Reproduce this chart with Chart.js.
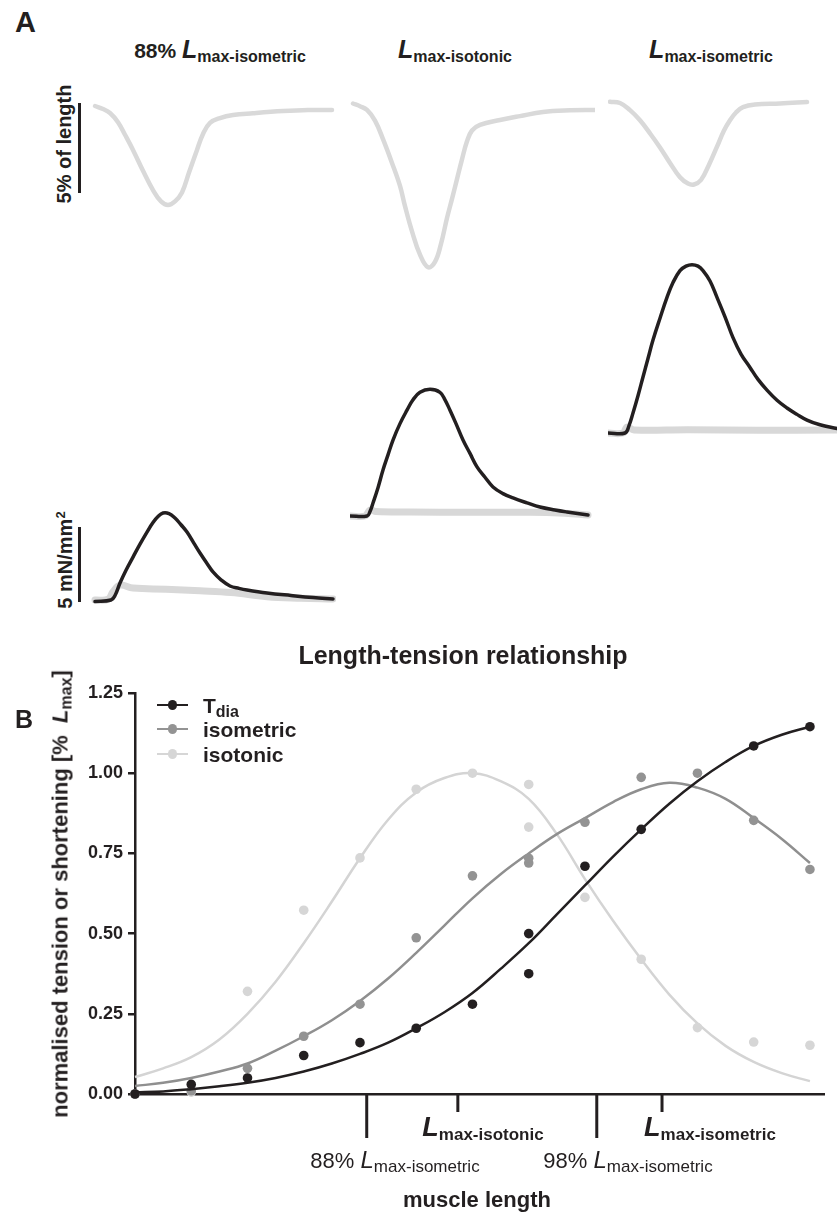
<!DOCTYPE html>
<html lang="en">
<head>
<meta charset="UTF-8">
<title>Length-tension relationship</title>
<script src="https://cdn.jsdelivr.net/npm/chart.js"></script>
<style>
  body { margin: 0; background: #fff; }
  #fig {
    position: relative; width: 837px; height: 1214px; overflow: hidden;
    font-family: 'Liberation Sans', Arial, Helvetica, sans-serif; color: #231f20;
  }
  #fig canvas { position: absolute; }
  .t { position: absolute; line-height: 1; white-space: nowrap; }
  .b { font-weight: bold; }
  .i { font-style: italic; }
  .s { vertical-align: -4px; }
  .bar { position: absolute; background: #231f20; }
</style>
</head>
<body>
<div id="fig">
  <canvas id="lt" width="837" height="574" style="left:0;top:640px"></canvas>
</div>

<script>
// ---- panel A: traces (time in ms from trace start, length in %, force in mN/mm2)
const len88 = [[4,0],[12,-0.17],[19,-0.39],[27,-0.9],[34,-1.6],[42,-2.44],[52,-3.6],[62,-4.67],[70,-5.3],[77,-5.5],[84,-5.3],[91,-4.8],[98,-3.7],[106,-2.44],[112,-1.55],[119,-0.94],[129,-0.67],[142,-0.5],[162,-0.4],[192,-0.28],[217,-0.22],[241,-0.22]];
const lenIsotonic = [[3,0],[10,-0.15],[17,-0.36],[25,-0.95],[33,-1.98],[42,-3.3],[50,-4.58],[55,-5.7],[62,-7.1],[70,-8.4],[78,-9.1],[85,-8.8],[91,-7.8],[97,-6.36],[102,-5.3],[107,-4.2],[112,-3.1],[117,-2.1],[122,-1.5],[130,-1.19],[150,-0.92],[170,-0.7],[193,-0.47],[220,-0.38],[245,-0.36]];
const lenIsometric = [[2,0],[12,-0.07],[22,-0.47],[32,-1.03],[42,-1.76],[52,-2.54],[62,-3.4],[72,-4.2],[80,-4.55],[86,-4.6],[93,-4.35],[101,-3.5],[109,-2.5],[116,-1.6],[122,-1.03],[128,-0.6],[135,-0.3],[147,-0.15],[172,-0.1],[199,-0.02]];

const force88 = [[4,-0.1],[20,0],[24,0.3],[29,1.14],[35,2.0],[42,2.88],[49,3.75],[56,4.56],[62,5.2],[67,5.6],[72,5.84],[78,5.8],[84,5.5],[90,5.05],[96,4.56],[103,3.8],[109,3.15],[116,2.45],[122,1.88],[130,1.35],[139,0.94],[148,0.78],[156,0.67],[176,0.47],[200,0.3],[222,0.16],[242,0.07]];
const forceIsotonic = [[0,0],[17,0],[20,0.3],[23,0.87],[28,1.9],[33,3.09],[38,4.1],[43,5.1],[50,6.2],[57,7.1],[63,7.8],[70,8.3],[80,8.5],[90,8.3],[95,7.8],[100,7.1],[106,6.2],[113,5.1],[120,4.2],[127,3.3],[135,2.6],[143,1.95],[153,1.5],[163,1.21],[177,0.88],[190,0.6],[205,0.4],[217,0.27],[238,0.07]];
const forceIsometric = [[0,0],[17,0],[21,0.5],[25,1.34],[30,2.5],[35,3.76],[40,5.0],[45,6.24],[52,7.7],[59,9.1],[65,10.1],[72,10.9],[78,11.2],[84,11.3],[90,11.2],[95,10.9],[102,10.2],[109,9.1],[117,7.8],[125,6.4],[133,5.3],[142,4.4],[150,3.6],[159,2.88],[169,2.2],[179,1.68],[189,1.25],[199,0.87],[212,0.55],[229,0.3]];

const loaded88 = [[4,0],[17,0.05],[22,0.55],[29,1.0],[42,0.8],[75,0.72],[109,0.62],[140,0.5],[176,0.22],[210,0.12],[242,0.07]];
const loadedIsotonic = [[0,0],[15,0],[20,0.4],[26,0.3],[60,0.27],[120,0.25],[180,0.25],[215,0.18],[238,0.07]];
const loadedIsometric = [[0,0],[15,0],[19,0.4],[26,0.2],[80,0.22],[150,0.18],[229,0.2]];

// ---- panel B: length-tension relationship
const fitX = [0,0.5,1,1.5,2,2.5,3,3.5,4,4.5,5,5.5,6,6.5,7,7.5,8,8.5,9,9.5,10,10.5,11,11.5,12];
const fitTdia = [0.005,0.008,0.015,0.024,0.035,0.05,0.07,0.095,0.125,0.16,0.205,0.255,0.315,0.39,0.47,0.56,0.65,0.74,0.825,0.905,0.975,1.035,1.085,1.12,1.145];
const fitIsometric = [0.025,0.035,0.05,0.07,0.095,0.135,0.18,0.23,0.29,0.36,0.44,0.525,0.61,0.685,0.75,0.81,0.86,0.91,0.95,0.97,0.955,0.92,0.86,0.795,0.72];
const fitIsotonic = [0.053,0.08,0.115,0.17,0.25,0.35,0.47,0.60,0.735,0.855,0.94,0.985,1.0,0.975,0.92,0.81,0.67,0.54,0.42,0.31,0.22,0.15,0.10,0.065,0.04];

const tdiaPts = [[0,0],[1,0.03],[2,0.05],[3,0.12],[4,0.16],[5,0.205],[6,0.28],[7,0.375],[7,0.50],[8,0.71],[9,0.825],[11,1.085],[12,1.145]];
const isometricPts = [[0,0],[1,0.01],[2,0.08],[3,0.18],[4,0.28],[5,0.487],[6,0.68],[7,0.72],[7,0.735],[8,0.847],[9,0.987],[10,1.0],[11,0.853],[12,0.70]];
const isotonicPts = [[0,0],[1,0.006],[2,0.32],[3,0.573],[4,0.736],[5,0.95],[6,1.0],[7,0.832],[7,0.965],[8,0.613],[9,0.42],[10,0.207],[11,0.162],[12,0.152]];

const yTicks = [0, 0.25, 0.5, 0.75, 1.0, 1.25];
const markerX = [4.12, 5.74, 8.21, 9.37];   // 88%, Lmax-isotonic, 98%, Lmax-isometric
const markerLong = [true, false, true, false];

const INK = '#231f20', MID = '#8f8f8f', LIGHT = '#d6d6d6';
Chart.defaults.font.family = "'Liberation Sans', Arial, sans-serif";

const xy = arr => arr.map(p => ({x: p[0], y: p[1]}));
const fig = document.getElementById('fig');

// ---- panel A charts, one per column
const TOP = 90, H = 525, PX_PCT = 18, PX_MN = 14.9;
const cols = [
  {left: 91,  w: 245, lenBase: 106,   fBase: 600, len: len88,        force: force88,        loaded: loaded88},
  {left: 350, w: 245, lenBase: 103.5, fBase: 516, len: lenIsotonic,  force: forceIsotonic,  loaded: loadedIsotonic},
  {left: 608, w: 229, lenBase: 101.7, fBase: 433, len: lenIsometric, force: forceIsometric, loaded: loadedIsometric}
];
const traceLine = {showLine: true, pointRadius: 0, tension: 0.4, clip: false,
                   borderCapStyle: 'round', borderJoinStyle: 'round'};

cols.forEach(c => {
  const cv = document.createElement('canvas');
  cv.width = c.w; cv.height = H;
  cv.style.left = c.left + 'px'; cv.style.top = TOP + 'px';
  fig.appendChild(cv);
  new Chart(cv, {
    type: 'scatter',
    data: { datasets: [
      Object.assign({data: xy(c.force),  yAxisID: 'yF', borderColor: INK,       borderWidth: 3.5, order: 0}, traceLine),
      Object.assign({data: xy(c.loaded), yAxisID: 'yF', borderColor: '#d8d8d8', borderWidth: 7,   order: 1}, traceLine),
      Object.assign({data: xy(c.len),    yAxisID: 'yL', borderColor: '#d9d9d9', borderWidth: 4.5, order: 2}, traceLine)
    ]},
    options: {
      responsive: false, animation: false, events: [],
      layout: {padding: 0},
      plugins: {legend: {display: false}, tooltip: {enabled: false}},
      scales: {
        x:  {type: 'linear', display: false, min: 0, max: c.w},
        yL: {display: false, min: -(TOP + H - c.lenBase) / PX_PCT, max: (c.lenBase - TOP) / PX_PCT},
        yF: {display: false, min: -(TOP + H - c.fBase) / PX_MN,    max: (c.fBase - TOP) / PX_MN}
      }
    }
  });
});

// ---- panel B chart
const markerPlugin = {
  id: 'markers',
  afterDraw(chart) {
    const ctx = chart.ctx, sx = chart.scales.x, y0 = chart.chartArea.bottom;
    ctx.save();
    ctx.strokeStyle = INK; ctx.lineWidth = 3;
    markerX.forEach((v, i) => {
      const px = sx.getPixelForValue(v);
      ctx.beginPath(); ctx.moveTo(px, y0); ctx.lineTo(px, y0 + (markerLong[i] ? 44 : 18)); ctx.stroke();
    });
    ctx.restore();
  }
};

const curve = (vals, color, order) => ({
  data: fitX.map((x, i) => ({x, y: vals[i]})), showLine: true, pointRadius: 0,
  borderColor: color, borderWidth: 2.5, tension: 0.4, clip: false, order
});
const dots = (pts, color, order) => ({
  data: xy(pts), showLine: false, pointRadius: 4.8, pointBorderWidth: 0,
  backgroundColor: color, borderColor: color, clip: false, order
});

new Chart(document.getElementById('lt'), {
  type: 'scatter',
  data: { datasets: [
    dots(tdiaPts, INK, 0), curve(fitTdia, INK, 1),
    dots(isometricPts, '#939393', 2), curve(fitIsometric, MID, 3),
    dots(isotonicPts, LIGHT, 4), curve(fitIsotonic, '#d4d4d4', 5)
  ]},
  options: {
    responsive: false, animation: false, events: [],
    layout: {padding: {top: 53, right: 13, bottom: 120, left: 0}},
    plugins: {legend: {display: false}, tooltip: {enabled: false}},
    scales: {
      x: {
        type: 'linear', min: 0, max: 12.25,
        ticks: {display: false},
        grid: {display: true, drawOnChartArea: false, drawTicks: false},
        border: {display: true, color: INK, width: 2.5},
        afterFit: s => { s.height = 0; }
      },
      y: {
        min: 0, max: 1.25,
        afterBuildTicks: s => { s.ticks = yTicks.map(v => ({value: v})); },
        ticks: {callback: v => v.toFixed(2), color: INK, padding: 5, font: {size: 18, weight: 'bold'}},
        grid: {display: true, drawOnChartArea: false, drawTicks: true, tickLength: 7, color: INK, lineWidth: 2.5},
        border: {display: true, color: INK, width: 2.5},
        afterFit: s => { s.width = 135; }
      }
    }
  },
  plugins: [markerPlugin]
});

// ---- text and scale bars
function label(html, x, base, size, maxSize, cls, center) {
  const d = document.createElement('div');
  d.className = 't ' + (cls || '');
  d.style.fontSize = size + 'px';
  d.innerHTML = html;
  d.style.left = x + 'px';
  d.style.top = (base - 0.8465 * maxSize) + 'px';
  if (center) d.style.transform = 'translateX(-50%)';
  fig.appendChild(d);
}
function vlabel(html, cx, cy, size, cls) {
  const d = document.createElement('div');
  d.className = 't ' + (cls || '');
  d.style.fontSize = size + 'px';
  d.innerHTML = html;
  d.style.left = cx + 'px'; d.style.top = cy + 'px';
  d.style.transform = 'translate(-50%,-50%) rotate(-90deg)';
  fig.appendChild(d);
}
const Lsub = (Ls, ss, sub) => `<span class="i" style="font-size:${Ls}px">L</span><span class="s" style="font-size:${ss}px">${sub}</span>`;

label('A', 15, 33, 29, 29, 'b');
label('88% ' + Lsub(25, 16, 'max-isometric'), 220, 58, 21, 25, 'b', true);
label(Lsub(25, 16, 'max-isotonic'), 455, 58, 21, 25, 'b', true);
label(Lsub(25, 16, 'max-isometric'), 711, 58, 21, 25, 'b', true);

vlabel('5% of length', 64, 143.5, 20, 'b');
vlabel('5 mN/mm<span style="font-size:13px;vertical-align:7px">2</span>', 64, 560, 20, 'b');
[[103, 90], [527, 75]].forEach(([top, h]) => {
  const d = document.createElement('div');
  d.className = 'bar';
  d.style.left = '77.5px'; d.style.top = top + 'px'; d.style.width = '3px'; d.style.height = h + 'px';
  fig.appendChild(d);
});

label('Length-tension relationship', 463, 664, 25, 25, 'b', true);
label('B', 15, 728, 25, 25, 'b');
vlabel('normalised tension or shortening [%&nbsp; ' + Lsub(22, 16, 'max') + ']', 62.4, 894, 22, 'b');

// legend
[['T<span class="s" style="font-size:16px">dia</span>', INK, 705],
 ['isometric', '#939393', 729],
 ['isotonic', LIGHT, 754]].forEach(([txt, col, y]) => {
  const ln = document.createElement('div');
  ln.className = 'bar';
  ln.style.cssText = `left:157px;top:${y - 1.25}px;width:31px;height:2.5px;background:${col}`;
  fig.appendChild(ln);
  const dt = document.createElement('div');
  dt.className = 'bar';
  dt.style.cssText = `left:${172.5 - 4.8}px;top:${y - 4.8}px;width:9.6px;height:9.6px;border-radius:50%;background:${col}`;
  fig.appendChild(dt);
  label(txt, 203, y + 7.5, 21, 21, 'b');
});

// x-axis markers
label(Lsub(27, 17, 'max-isotonic'), 483, 1137, 22, 27, 'b', true);
label(Lsub(27, 17, 'max-isometric'), 710, 1137, 22, 27, 'b', true);
label('88% ' + Lsub(24, 17, 'max-isometric'), 395, 1168, 22, 24, '', true);
label('98% ' + Lsub(24, 17, 'max-isometric'), 628, 1168, 22, 24, '', true);
label('muscle length', 477, 1208, 22, 22, 'b', true);
</script>
</body>
</html>
